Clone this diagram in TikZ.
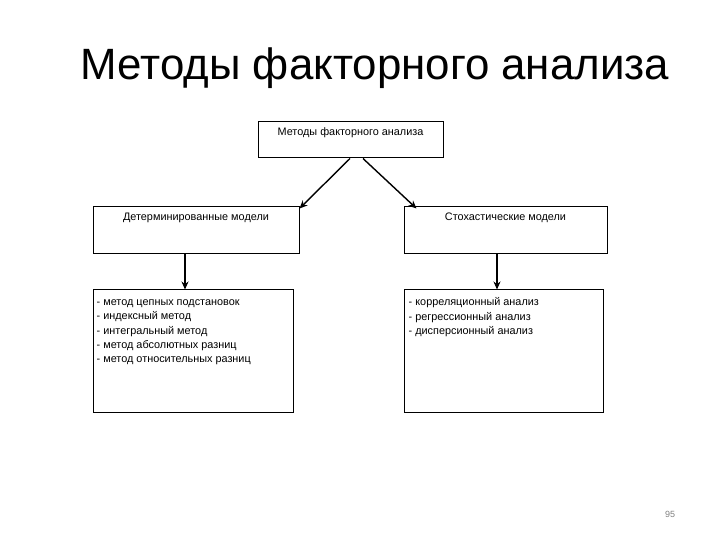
\documentclass[tikz,border=0pt]{standalone}
\usepackage{fontspec}
\setmainfont{Liberation Sans}
\usetikzlibrary{arrows.meta}

\tikzset{
    kasten/.style={draw, line width=1bp, rectangle, inner sep=0pt},
    pfeil/.style={line width=1.4bp, -{Stealth[length=8bp, width=7bp]}},
    beschr/.style={font=\fontsize{10.9}{14.3}\selectfont, inner sep=0pt},
    zeile/.style={beschr, text height=8bp, text depth=2.5bp, anchor=north}
}

\begin{document}
\begin{tikzpicture}[x=1bp, y=-1bp]
    \useasboundingbox (0,0) rectangle (720,540);
    \node[font=\fontsize{44}{52}\selectfont] (titel) at (375,68) {Методы факторного анализа};
    \path node[kasten, minimum width=185bp, minimum height=36bp,
            label={[zeile, yshift=-5.5bp]north:Методы факторного анализа}] (FA) at (350.5,140) {}
        node[kasten, minimum width=206bp, minimum height=46bp,
            label={[zeile, yshift=-6bp]north:Детерминированные модели}] (DM) at (196,230) {}
        node[kasten, minimum width=203bp, minimum height=46bp,
            label={[zeile, yshift=-6bp]north:Стохастические модели}] (SM) at (505.5,230) {}
        node[kasten, minimum width=200bp, minimum height=122bp,
            label={[beschr, anchor=north west, align=left, xshift=4bp, yshift=-10bp]north west:- метод цепных подстановок\\- индексный метод\\- интегральный метод\\- метод абсолютных разниц\\- метод относительных разниц}] (DL) at (193,351) {}
        node[kasten, minimum width=199bp, minimum height=122bp,
            label={[beschr, anchor=north west, align=left, xshift=5bp, yshift=-8bp]north west:- корреляционный анализ\\- регрессионный анализ\\- дисперсионный анализ}] (SL) at (503.5,351) {};
    \node[font=\fontsize{9}{11}\selectfont, text=gray] (seite) at (670,514) {95};
    \draw[pfeil] ([xshift=-0.5bp]FA.south) -- ([xshift=0bp,yshift=-2bp]DM.north east);
    \draw[pfeil] ([xshift=12.5bp]FA.south) -- ([xshift=13bp,yshift=-2bp]SM.north west);
    \draw[pfeil] ([xshift=-11bp]DM.south) -- ([xshift=-11bp]DM.south |- DL.north);
    \draw[pfeil] ([xshift=-8.5bp]SM.south) -- ([xshift=-8.5bp]SM.south |- SL.north);
\end{tikzpicture}
\end{document}
